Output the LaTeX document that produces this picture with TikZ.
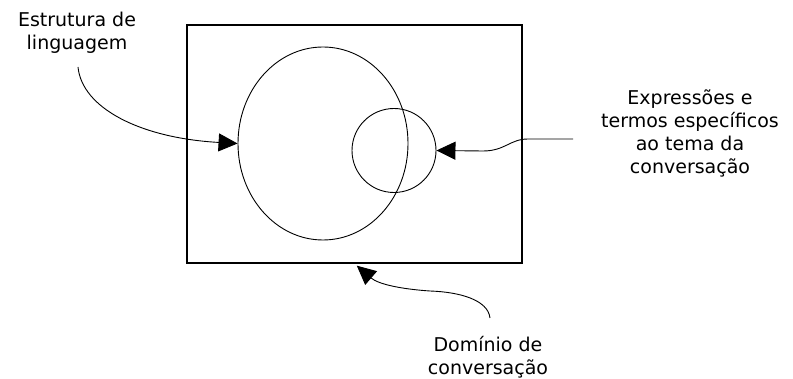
\documentclass[tikz,border=0pt]{standalone}
\usepackage{fontspec}
\setmainfont{DejaVu Sans}
\usetikzlibrary{arrows.meta,shapes.geometric}
\begin{document}
\begin{tikzpicture}[x=1pt,y=-1pt,
  lbl/.style={align=center,inner sep=0pt,font=\fontsize{19}{23}\selectfont},
  arr/.style={line width=0.9pt,-{Triangle[length=19pt,width=18pt]}},
  outline/.style={draw,line width=0.9pt,inner sep=0pt}]
\useasboundingbox[fill=white] (0,0) rectangle (793,379);
\node[draw,line width=1.4pt,minimum width=335pt,minimum height=238pt,inner sep=0pt] (dom) at (354.5,144) {};
\node[outline,ellipse,minimum width=170pt,minimum height=193pt] (big) at (323,143.5) {};
\node[outline,circle,minimum size=84pt] (small) at (394,150.5) {};
\node[lbl] (lang) at (77,33) {Estrutura de\\linguagem};
\node[lbl] (expr) at (690,133) {Expressões e\\termos específicos\\ao tema da\\conversação};
\node[lbl] (domtxt) at (488,357) {Domínio de\\conversação};
\coordinate (s1) at (78,67);
\coordinate (s2) at (573,139);
\coordinate (s3) at (490,318);
\draw[arr] (s1) .. controls (82,108) and (140,138) .. (big.west);
\draw[arr] (s2) -- (528,139) .. controls (510,139) and (505,151) .. (483,151) -- (small.east);
\draw[arr,shorten >=3pt] (s3) .. controls (488,300) and (460,292) .. (430,291) .. controls (400,289) and (378,284) .. (dom.south);
\end{tikzpicture}
\end{document}
